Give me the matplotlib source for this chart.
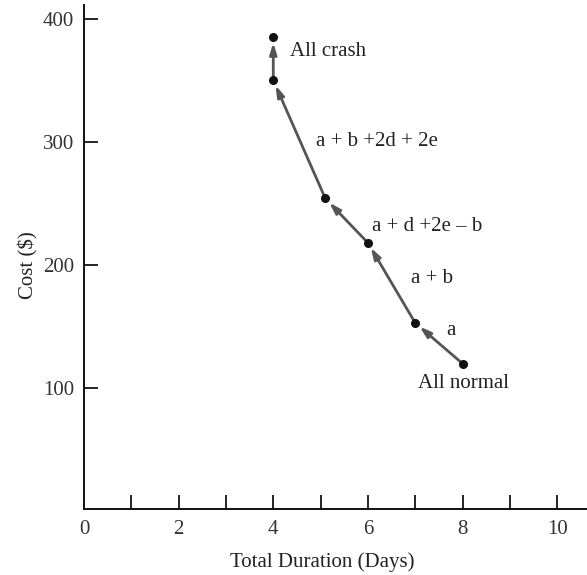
import matplotlib
matplotlib.use("Agg")
import matplotlib.pyplot as plt
from matplotlib.ticker import MultipleLocator

plt.rcParams['font.family'] = ['Liberation Serif', 'DejaVu Serif']

# crash schedule points (days, cost $), from all normal to all crash
duration = [8, 7, 6, 5.1, 4, 4]
cost = [120, 153, 218, 254, 350, 385]

labels = ["a", "a + b", "a + d +2e \u2013 b", "a + b +2d + 2e"]
label_x = [7.65, 6.91, 6.09, 4.90]
label_y = [147, 189, 231, 300]

end_labels = ["All normal", "All crash"]

x_ticks = [0, 2, 4, 6, 8, 10]
y_ticks = [100, 200, 300, 400]

fig = plt.figure(figsize=(5.87, 5.75), dpi=100)
ax = fig.add_axes([84/587, 1 - 509/575, 1 - 84/587, (509 - 5)/575])

arrow_col = '#555555'
for i in range(len(duration) - 1):
    ax.annotate('', xy=(duration[i+1], cost[i+1]), xytext=(duration[i], cost[i]),
                arrowprops=dict(arrowstyle='-|>,head_length=0.55,head_width=0.17',
                                color=arrow_col, lw=2, shrinkA=0, shrinkB=4,
                                mutation_scale=12))
ax.plot(duration, cost, 'o', color='#111111', markersize=5.5, zorder=5)

for t, x, y in zip(labels, label_x, label_y):
    ax.text(x, y, t, fontsize=15, color='#222222', va='center', ha='left')
ax.text(7.06, 104, end_labels[0], fontsize=15, color='#222222', va='center')
ax.text(4.36, 373, end_labels[1], fontsize=15, color='#222222', va='center')

ax.set_xlim(0, 10.63)
ax.set_ylim(2, 411)
ax.set_xticks(x_ticks)
ax.xaxis.set_minor_locator(MultipleLocator(1))
ax.set_yticks(y_ticks)

for s in ['top', 'right']:
    ax.spines[s].set_visible(False)
for s in ['left', 'bottom']:
    ax.spines[s].set_linewidth(1.4)
    ax.spines[s].set_color('#111111')

ax.tick_params(axis='x', which='both', direction='in', length=10, width=1.2,
               labelsize=15, labelcolor='#333333', pad=8)
ax.tick_params(axis='y', direction='in', length=10, width=1.2,
               labelsize=15, labelcolor='#333333', pad=7)
# no tick mark at the origin
ax.xaxis.get_major_ticks()[0].tick1line.set_visible(False)

fig.text(322/587, 1 - 562/575, "Total Duration (Days)", fontsize=15,
         color='#222222', ha='center', va='center')
fig.text(28/587, 1 - 265/575, "Cost ($)", fontsize=15, color='#222222',
         ha='center', va='center', rotation=90)

fig.savefig("out.png", dpi=100)
